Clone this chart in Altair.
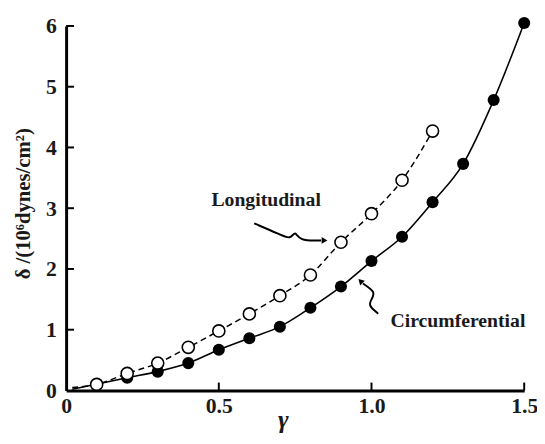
import altair as alt
import pandas as pd

# ---- data ----
strain_circ = [0.2, 0.3, 0.4, 0.5, 0.6, 0.7, 0.8, 0.9, 1.0, 1.1, 1.2, 1.3, 1.4, 1.5]
stress_circ = [0.21, 0.31, 0.45, 0.67, 0.86, 1.05, 1.36, 1.71, 2.13, 2.53, 3.10, 3.73, 4.78, 6.05]
strain_long = [0.1, 0.2, 0.3, 0.4, 0.5, 0.6, 0.7, 0.8, 0.9, 1.0, 1.1, 1.2]
stress_long = [0.10, 0.28, 0.45, 0.71, 0.98, 1.26, 1.56, 1.90, 2.44, 2.91, 3.46, 4.27]
# curves start near the origin
curve_start_x = [0.02]
curve_start_circ = [0.02]
curve_start_long = [0.05]

x_ticks = [0, 0.5, 1.0, 1.5]
y_ticks = [0, 1, 2, 3, 4, 5, 6]

label_names = ["Longitudinal", "Circumferential"]
label_x = [0.655, 1.283]
label_y = [3.13, 1.15]

arrow_long_x = [0.616, 0.70, 0.735, 0.75, 0.763, 0.835]
arrow_long_y = [2.75, 2.57, 2.48, 2.64, 2.46, 2.47]
arrow_circ_x = [1.022, 0.989, 1.000, 1.014, 0.972]
arrow_circ_y = [1.264, 1.40, 1.50, 1.62, 1.76]
head_x = [0.843, 0.966]
head_y = [2.47, 1.79]
head_angle = [90, 315]

FONT = "Liberation Serif"

circ_line = pd.DataFrame({"x": curve_start_x + strain_circ, "y": curve_start_circ + stress_circ})
long_line = pd.DataFrame({"x": curve_start_x + strain_long, "y": curve_start_long + stress_long})
circ_pts = pd.DataFrame({"x": strain_circ, "y": stress_circ})
long_pts = pd.DataFrame({"x": strain_long, "y": stress_long})
labels_df = pd.DataFrame({"t": label_names, "x": label_x, "y": label_y})
arr_long = pd.DataFrame({"x": arrow_long_x, "y": arrow_long_y, "o": list(range(len(arrow_long_x)))})
arr_circ = pd.DataFrame({"x": arrow_circ_x, "y": arrow_circ_y, "o": list(range(len(arrow_circ_x)))})
heads = pd.DataFrame({"x": head_x, "y": head_y, "a": head_angle})
xt = pd.DataFrame({"x": x_ticks[1:]})
yt = pd.DataFrame({"y": y_ticks[1:]})

xs = alt.Scale(domain=[0, 1.5], nice=False, zero=False)
ys = alt.Scale(domain=[0, 6], nice=False)

x_axis = alt.Axis(
    values=x_ticks,
    labelExpr="datum.value == 0 ? '0' : format(datum.value, '.1f')",
    title="γ", titleFont=FONT, titleFontSize=26, titleFontStyle="italic", titleFontWeight="bold",
    titleX=220, titleY=38, titleBaseline="alphabetic",
    labelPadding=5, labelFlush=False,
)
y_axis = alt.Axis(
    values=y_ticks, format="d",
    title="δ /(10⁶dynes/cm²)", titleFont=FONT, titleFontSize=21, titleFontWeight="bold",
    titleX=-43, titleY=180, titleAnchor="middle", titleBaseline="middle",
    labelPadding=10,
)

X = alt.X("x:Q", scale=xs, axis=x_axis)
Y = alt.Y("y:Q", scale=ys, axis=y_axis)
Xn = alt.X("x:Q", scale=xs)
Yn = alt.Y("y:Q", scale=ys)

base_long = alt.Chart(long_line).mark_line(
    color="black", strokeWidth=1.5, strokeDash=[6, 4], interpolate="monotone"
).encode(x=X, y=Y)
base_circ = alt.Chart(circ_line).mark_line(
    color="black", strokeWidth=1.6, interpolate="monotone"
).encode(x=Xn, y=Yn)
pts_circ = alt.Chart(circ_pts).mark_point(
    shape="circle", filled=True, color="black", size=150, opacity=1
).encode(x=Xn, y=Yn)
pts_long = alt.Chart(long_pts).mark_point(
    shape="circle", filled=True, fill="white", stroke="black", strokeWidth=1.6, size=150, opacity=1
).encode(x=Xn, y=Yn)
txt = alt.Chart(labels_df).mark_text(
    font=FONT, fontSize=20, fontWeight="bold", color="#1a1a1a"
).encode(x=Xn, y=Yn, text="t:N")
a1 = alt.Chart(arr_long).mark_line(color="black", strokeWidth=2, interpolate="basis").encode(
    x=Xn, y=Yn, order="o:Q")
a2 = alt.Chart(arr_circ).mark_line(color="black", strokeWidth=2, interpolate="basis").encode(
    x=Xn, y=Yn, order="o:Q")
hd = alt.Chart(heads).mark_point(shape="triangle", filled=True, color="black", size=45, opacity=1).encode(
    x=Xn, y=Yn, angle=alt.Angle("a:Q", scale=None))
xticks = alt.Chart(xt).mark_rule(color="black", strokeWidth=2).encode(
    x=Xn, y=alt.value(370), y2=alt.value(362))
yticks = alt.Chart(yt).mark_rule(color="black", strokeWidth=2).encode(
    y=Yn, x=alt.value(0), x2=alt.value(8))

chart = alt.layer(
    base_long, base_circ, xticks, yticks, pts_circ, pts_long, a1, a2, hd, txt
).properties(
    width=465, height=370,
    padding={"left": 59, "top": 15, "right": 13, "bottom": 43},
    autosize=alt.AutoSizeParams(type="none"),
    background="white",
).configure_view(stroke=None).configure_axis(
    grid=False, ticks=False, domainColor="black", domainWidth=3,
    labelFont=FONT, labelFontSize=22, labelFontWeight="bold", labelColor="#1a1a1a",
    titleColor="#1a1a1a",
)

chart.save("out.html", embed_options={"renderer": "svg", "actions": False})
